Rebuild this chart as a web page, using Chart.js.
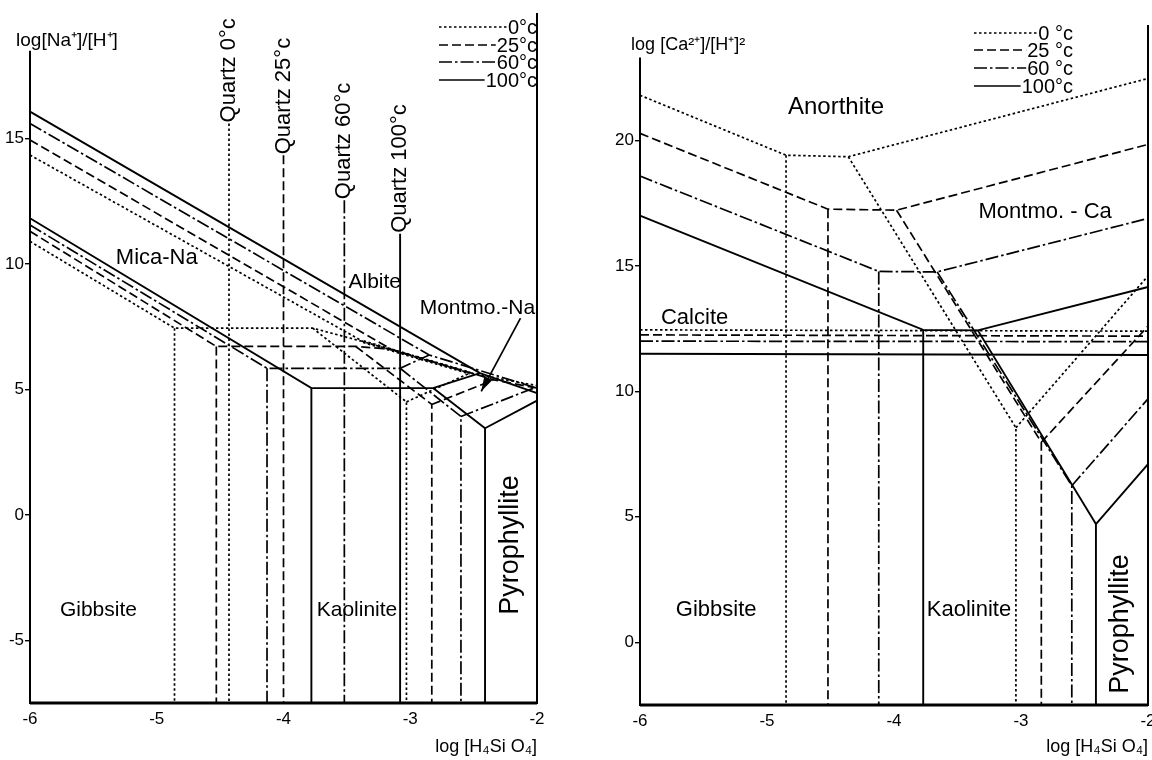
<!DOCTYPE html>
<html>
<head>
<meta charset="utf-8">
<script src="https://cdn.jsdelivr.net/npm/chart.js@4.4.1/dist/chart.umd.min.js"></script>
<style>
  html, body { margin: 0; padding: 0; background: #fff; overflow: hidden; }
  #wrap { position: relative; width: 1152px; height: 760px; overflow: hidden; background: #fff; }
  canvas { position: absolute; top: 0; }
  #na { left: 0; }
  #ca { left: 580px; }
</style>
</head>
<body>
<div id="wrap">
  <canvas id="na" width="580" height="760"></canvas>
  <canvas id="ca" width="600" height="760"></canvas>
</div>
<script>
const temps = ['0°c', '25°c', '60°c', '100°c']
const tempsCa = ['0 °c', '25 °c', '60 °c', '100°c']
const xTicks = [-6, -5, -4, -3, -2]
const naYTicks = [-5, 0, 5, 10, 15]
const caYTicks = [0, 5, 10, 15, 20]

// Na system: [log H4SiO4, log Na/H] pairs, null lifts the pen
const naLines0 = [
  [-6, 14.34], [-3.37, 6.9], [-2.53, 5.65], [-2, 5.15], null,
  [-6, 10.9], [-4.86, 7.44], [-3.77, 7.44], [-3.37, 6.9], null,
  [-4.86, 7.44], [-4.86, -7.5], null,
  [-3.77, 7.44], [-3.03, 4.5], [-3.03, -7.5], null,
  [-3.03, 4.5], [-2.53, 5.65], null,
  [-4.43, 15.6], [-4.43, -7.5]
]
const naHeavy0 = [[-3.37, 6.9], [-2.53, 5.65]]
const naLines25 = [
  [-6, 14.94], [-3.15, 6.6], [-2.34, 5.38], [-2, 5.05], null,
  [-6, 11.3], [-4.53, 6.71], [-3.43, 6.71], [-3.15, 6.6], null,
  [-4.53, 6.71], [-4.53, -7.5], null,
  [-3.43, 6.71], [-2.83, 4.4], [-2.83, -7.5], null,
  [-2.83, 4.4], [-2.34, 5.38], null,
  [-4.0, 14.33], [-4.0, -7.5]
]
const naLines60 = [
  [-6, 15.6], [-2.85, 6.37], [-2, 5.05], null,
  [-6, 11.55], [-4.13, 5.84], [-3.08, 5.84], [-2.85, 6.37], null,
  [-4.13, 5.84], [-4.13, -7.5], null,
  [-3.08, 5.84], [-2.6, 3.92], [-2.6, -7.5], null,
  [-2.6, 3.92], [-2, 5.1], null,
  [-3.52, 12.54], [-3.52, -7.5]
]
const naLines100 = [
  [-6, 16.07], [-2.45, 5.65], [-2, 4.85], null,
  [-6, 11.82], [-3.78, 5.05], [-2.82, 5.05], [-2.45, 5.65], null,
  [-3.78, 5.05], [-3.78, -7.5], null,
  [-2.82, 5.05], [-2.41, 3.45], [-2.41, -7.5], null,
  [-2.41, 3.45], [-2, 4.55], null,
  [-3.08, 11.2], [-3.08, -7.5]
]
const naArrow = [[-2.13, 7.84], [-2.44, 4.92]]
const naFrame = [[-6, 18.5], [-6, -7.5], [-2, -7.5], [-2, 20]]
const naBase = [[-6, -7.5], [-2, -7.5]]

// Ca system: [log H4SiO4, log Ca/H2]
const caLines0 = [
  [-6, 21.8], [-4.85, 19.41], [-4.36, 19.35], [-2, 22.47], null,
  [-4.85, 19.41], [-4.85, -2.5], null,
  [-4.36, 19.35], [-3.04, 8.55], [-3.04, -2.5], null,
  [-3.04, 8.55], [-2, 14.6], null,
  [-6, 12.45], [-2, 12.4]
]
const caLines25 = [
  [-6, 20.28], [-4.52, 17.26], [-3.98, 17.22], [-2, 19.84], null,
  [-4.52, 17.26], [-4.52, -2.5], null,
  [-3.98, 17.22], [-2.84, 7.97], [-2.84, -2.5], null,
  [-2.84, 7.97], [-2, 12.6], null,
  [-6, 12.25], [-2, 12.2]
]
const caLines60 = [
  [-6, 18.58], [-4.12, 14.78], [-3.66, 14.76], [-2, 16.89], null,
  [-4.12, 14.78], [-4.12, -2.5], null,
  [-3.66, 14.76], [-2.6, 6.24], [-2.6, -2.5], null,
  [-2.6, 6.24], [-2, 9.7], null,
  [-6, 12.0], [-2, 11.98]
]
const caLines100 = [
  [-6, 17.0], [-3.77, 12.45], [-3.34, 12.43], [-2, 14.16], null,
  [-3.77, 12.45], [-3.77, -2.5], null,
  [-3.34, 12.43], [-2.41, 4.71], [-2.41, -2.5], null,
  [-2.41, 4.71], [-2, 7.1], null,
  [-6, 11.5], [-2, 11.45]
]
const caFrame = [[-6, 23.3], [-6, -2.5], [-2, -2.5], [-2, 24.6]]
const caBase = [[-6, -2.5], [-2, -2.5]]

// field names and quartz lines
const naRegions = ['Mica-Na', 'Albite', 'Montmo.-Na', 'Gibbsite', 'Kaolinite', 'Pyrophyllite']
const naRegionX = [-5.0, -3.28, -2.47, -5.46, -3.42, -2.205]
const naRegionY = [10.23, 9.28, 8.24, -3.8, -3.8, -1.2]
const quartzLabels = ['Quartz 0°c', 'Quartz 25°c', 'Quartz 60°c', 'Quartz 100°c']
const quartzX = [-4.43, -4.0, -3.52, -3.08]
const quartzTop = [15.6, 14.33, 12.54, 11.2]
const caRegions = ['Anorthite', 'Montmo. - Ca', 'Calcite', 'Gibbsite', 'Kaolinite', 'Pyrophyllite']
const caRegionX = [-4.457, -2.81, -5.57, -5.4, -3.41, -2.22]
const caRegionY = [21.3, 17.15, 12.93, 1.29, 1.29, 0.73]

const FONT = '"Liberation Sans", Arial, sans-serif'
const dashes = [[2.5, 2.5], [9, 4], [13, 3, 2.5, 3], []]

function toPoints(list) {
  let pts = []
  let lastX = 0
  list.forEach(p => {
    if (p === null) {
      pts.push({ x: lastX, y: null })
    } else {
      lastX = p[0]
      pts.push({ x: p[0], y: p[1] })
    }
  })
  return pts
}

function lineSet(list, style, width) {
  return {
    data: toPoints(list),
    borderColor: '#000',
    backgroundColor: '#000',
    borderWidth: width || 1.7,
    borderDash: dashes[style],
    showLine: true,
    pointRadius: 0,
    pointHoverRadius: 0,
    tension: 0,
    spanGaps: false,
    clip: false
  }
}

function textPlugin(items) {
  return {
    id: 'texts',
    afterDatasetsDraw(chart) {
      const { ctx, scales: { x, y } } = chart
      ctx.save()
      ctx.fillStyle = '#000'
      items.forEach(it => {
        ctx.save()
        ctx.font = it.size + 'px ' + FONT
        ctx.textAlign = it.align || 'center'
        ctx.textBaseline = it.base || 'middle'
        ctx.translate(x.getPixelForValue(it.x), y.getPixelForValue(it.y) + (it.dy || 0))
        if (it.rot) ctx.rotate(-Math.PI / 2)
        ctx.fillText(it.t, 0, 0)
        ctx.restore()
      })
      ctx.restore()
    }
  }
}

// temperature key in the top right corner
function keyPlugin(labels, sampleFromRight, textFromRight, rowOffsets) {
  return {
    id: 'tempKey',
    afterDraw(chart) {
      const { ctx, chartArea } = chart
      ctx.save()
      ctx.font = '20px ' + FONT
      ctx.textBaseline = 'middle'
      ctx.textAlign = 'right'
      ctx.strokeStyle = '#000'
      ctx.fillStyle = '#000'
      ctx.lineWidth = 1.7
      labels.forEach((lab, i) => {
        let yy = chartArea.top + rowOffsets[i]
        let right = chartArea.right - textFromRight
        let w = ctx.measureText(lab).width
        ctx.setLineDash(dashes[i])
        ctx.beginPath()
        ctx.moveTo(chartArea.right - sampleFromRight, yy)
        ctx.lineTo(right - w - 1, yy)
        ctx.stroke()
        ctx.setLineDash([])
        ctx.fillText(lab, right, yy + 1)
      })
      ctx.restore()
    }
  }
}

const arrowPlugin = {
  id: 'arrowHead',
  afterDatasetsDraw(chart) {
    chart.data.datasets.forEach((ds, i) => {
      if (!ds.arrow) return
      const pts = chart.getDatasetMeta(i).data
      const a = pts[pts.length - 2], b = pts[pts.length - 1]
      const ang = Math.atan2(b.y - a.y, b.x - a.x)
      const ctx = chart.ctx
      ctx.save()
      ctx.translate(b.x, b.y)
      ctx.rotate(ang)
      ctx.fillStyle = '#000'
      ctx.beginPath()
      ctx.moveTo(0, 0)
      ctx.lineTo(-15, -4.5)
      ctx.lineTo(-15, 4.5)
      ctx.closePath()
      ctx.fill()
      ctx.restore()
    })
  }
}

function makeChart(id, cfg) {
  return new Chart(document.getElementById(id), {
    type: 'scatter',
    data: { datasets: cfg.datasets },
    options: {
      responsive: false,
      animation: false,
      events: [],
      layout: { padding: { top: cfg.top, right: cfg.right, left: 0, bottom: 0 } },
      plugins: { legend: { display: false }, tooltip: { enabled: false } },
      scales: {
        x: {
          type: 'linear',
          min: -6,
          max: -2,
          afterFit: s => { s.height = cfg.xHeight },
          afterBuildTicks: s => { s.ticks = xTicks.map(v => ({ value: v })) },
          grid: { display: false, drawTicks: false },
          border: { display: false },
          ticks: { color: '#000', font: { family: FONT, size: 17 }, padding: 6 },
          title: {
            display: true,
            text: 'log [H₄Si O₄]',
            align: 'end',
            color: '#000',
            font: { family: FONT, size: 18 },
            padding: { top: 0, bottom: 2 }
          }
        },
        y: {
          type: 'linear',
          min: cfg.yMin,
          max: cfg.yMax,
          afterFit: s => { s.width = cfg.yWidth },
          afterBuildTicks: s => { s.ticks = cfg.yTicks.map(v => ({ value: v })) },
          grid: { display: true, drawOnChartArea: false, drawTicks: true, tickLength: 5, color: '#000', lineWidth: 1.4 },
          border: { display: false },
          ticks: { color: '#000', font: { family: FONT, size: 17 }, padding: 1 }
        }
      }
    },
    plugins: [textPlugin(cfg.texts), keyPlugin(cfg.keyLabels, cfg.keySample, cfg.keyText, cfg.keyRows), arrowPlugin]
  })
}

// left diagram
let naTexts = naRegions.map((t, i) => ({
  t, x: naRegionX[i], y: naRegionY[i],
  size: t === 'Pyrophyllite' ? 27 : (t === 'Mica-Na' ? 22 : 21),
  rot: t === 'Pyrophyllite'
}))
quartzLabels.forEach((t, i) => {
  naTexts.push({ t, x: quartzX[i], y: quartzTop[i], dy: -1, size: 22, rot: true, align: 'left' })
})
naTexts.push({ t: 'log[Na⁺]/[H⁺]', x: -6.11, y: 18.68, size: 19, align: 'left', base: 'alphabetic' })

let naArrowSet = lineSet(naArrow, 3, 1.7)
naArrowSet.arrow = true

makeChart('na', {
  datasets: [
    lineSet(naLines0, 0), lineSet(naHeavy0, 0, 3.4),
    lineSet(naLines25, 1), lineSet(naLines60, 2), lineSet(naLines100, 3, 1.9),
    naArrowSet, lineSet(naFrame, 3, 2), lineSet(naBase, 3, 2.8)
  ],
  top: 13, right: 43, xHeight: 57, yWidth: 30,
  yMin: -7.5, yMax: 20, yTicks: naYTicks,
  texts: naTexts,
  keyLabels: temps, keySample: 98, keyText: 0, keyRows: [14, 32, 49, 67]
})

// right diagram
let caTexts = caRegions.map((t, i) => ({
  t, x: caRegionX[i], y: caRegionY[i],
  size: t === 'Pyrophyllite' ? 27 : (t === 'Anorthite' ? 24 : 22),
  rot: t === 'Pyrophyllite'
}))
caTexts.push({ t: 'log [Ca²⁺]/[H⁺]²', x: -6.07, y: 23.6, size: 18, align: 'left', base: 'alphabetic' })

makeChart('ca', {
  datasets: [
    lineSet(caLines0, 0), lineSet(caLines25, 1), lineSet(caLines60, 2), lineSet(caLines100, 3, 1.9),
    lineSet(caFrame, 3, 2), lineSet(caBase, 3, 2.8)
  ],
  top: 25, right: 32, xHeight: 55, yWidth: 60,
  yMin: -2.5, yMax: 24.6, yTicks: caYTicks,
  texts: caTexts,
  keyLabels: tempsCa, keySample: 174, keyText: 75, keyRows: [8, 25, 43, 61]
})
</script>
</body>
</html>
